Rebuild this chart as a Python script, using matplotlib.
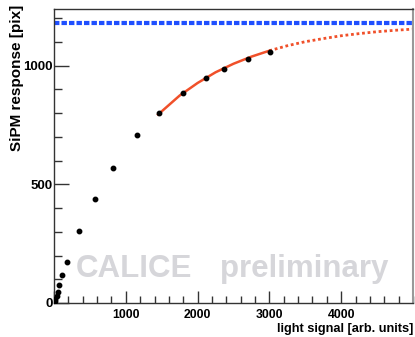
import matplotlib
matplotlib.use("Agg")
import matplotlib.pyplot as plt
from matplotlib.ticker import MultipleLocator, FixedLocator

plt.rcParams['font.family'] = ['Liberation Sans', 'DejaVu Sans']

# measured points (light signal vs SiPM response)
signal = [3, 8, 18, 35, 49, 71, 118, 188, 350, 568, 815, 1150,
          1460, 1790, 2115, 2370, 2696, 3003]
response = [3, 8, 16, 31, 48, 76, 119, 171, 303, 439, 569, 706,
            802, 884, 946, 986, 1027, 1058]

# saturation fit curve (solid part and extrapolation)
fit_x = [1450, 1750, 2000, 2250, 2500, 2750, 3000]
fit_y = [794, 874, 927, 972, 1008, 1038, 1063]
ext_x = [3000, 3250, 3500, 3750, 4000, 4250, 4500, 4750, 5000]
ext_y = [1063, 1084, 1101, 1114, 1126, 1135, 1143, 1149, 1154]

# number of pixels (saturation level)
npix = 1180

fig = plt.figure(figsize=(4.15, 3.37), dpi=100)
ax = fig.add_axes([0.1301, 0.1009, 0.865, 0.8733])

ax.set_xlim(0, 5000)
ax.set_ylim(0, 1240)

# watermark
ax.text(0.06, 0.09, "CALICE", transform=ax.transAxes, fontsize=22.5,
        fontweight='bold', color='#d6d6da', zorder=0, ha='left', va='baseline')
ax.text(0.462, 0.09, "preliminary", transform=ax.transAxes, fontsize=22.5,
        fontweight='bold', color='#d6d6da', zorder=0, ha='left', va='baseline')

ax.axhline(npix, color='#1f4fff', lw=3.0, ls=(0, (1.3, 0.5)), zorder=2)
ax.plot(ext_x, ext_y, color='#f0502a', lw=2.0, ls=(0, (1.0, 1.0)), zorder=2)
ax.plot(fit_x, fit_y, color='#f0502a', lw=1.8, zorder=3)
ax.plot(signal, response, 'o', color='black', ms=3.2, zorder=4)

ax.xaxis.set_major_locator(FixedLocator([0, 1000, 2000, 3000, 4000]))
ax.xaxis.set_minor_locator(MultipleLocator(200))
ax.set_xticklabels(['', '1000', '2000', '3000', '4000'])
ax.yaxis.set_major_locator(MultipleLocator(500))
ax.yaxis.set_minor_locator(MultipleLocator(100))

ax.tick_params(axis='both', which='both', direction='in', top=False, right=False,
               colors='#333333', labelcolor='black')
ax.tick_params(axis='y', which='major', length=11, width=1, pad=1, labelsize=9.5)
ax.tick_params(axis='y', which='minor', length=6, width=1)
ax.tick_params(axis='x', which='major', length=9, width=1, pad=4, labelsize=8.8)
ax.tick_params(axis='x', which='minor', length=5, width=1)
for lab in ax.get_xticklabels() + ax.get_yticklabels():
    lab.set_fontweight('bold')

for s in ['left', 'bottom', 'top']:
    ax.spines[s].set_color('#333333')
    ax.spines[s].set_linewidth(1.0)
ax.spines['right'].set_color('#999999')
ax.spines['right'].set_linewidth(1.5)

ax.set_xlabel("light signal [arb. units]", fontsize=9.2, fontweight='bold')
ax.xaxis.set_label_coords(1.0, -0.09)
ax.xaxis.label.set_ha('right')
ax.xaxis.label.set_va('center')
ax.set_ylabel("SiPM response [pix]", fontsize=11, fontweight='bold')
ax.yaxis.label.set_rotation_mode('anchor')
ax.yaxis.label.set_ha('right')
ax.yaxis.label.set_va('center')
ax.yaxis.set_label_coords(-0.104, 1.012)

fig.savefig("out.png", dpi=100)
